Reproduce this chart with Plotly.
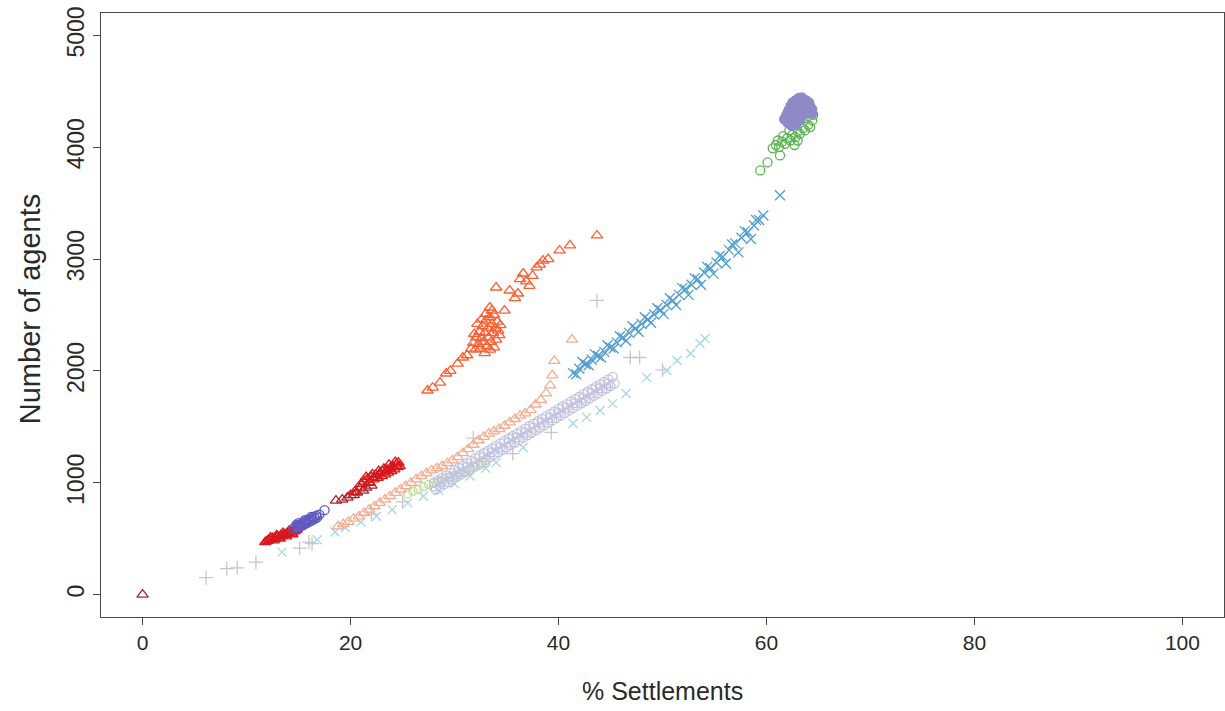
import plotly.graph_objects as go

# ---- data: (% settlements, number of agents) per run group ----
dkred_x = [0.0, 18.6, 19.2, 19.7, 20.3, 20.6, 21.2, 21.5, 22.0, 21.8]
dkred_y = [0, 840, 850, 868, 890, 912, 930, 957, 975, 1000]

red_x = [11.8, 12.0, 12.2, 12.4, 12.5, 12.7, 12.8, 13.0, 13.1, 13.3, 13.4, 13.6, 13.7, 13.9, 14.0,
         14.2, 14.3, 14.5, 14.6, 14.8, 12.3, 12.9, 13.5, 14.1, 14.7, 12.6, 13.2, 13.8, 14.4,
         20.0, 20.4, 20.9, 21.0, 21.3, 21.6, 21.8, 22.0, 22.2, 22.4, 22.6, 22.8, 23.0, 23.1, 23.3,
         23.5, 23.6, 23.8, 23.9, 24.1, 24.2, 24.4, 24.5, 24.6, 24.3, 23.7, 23.2, 22.7, 22.1, 21.5, 24.7]
red_y = [470, 480, 490, 495, 505, 500, 515, 520, 510, 530, 525, 540, 535, 550, 545,
         560, 555, 570, 565, 580, 510, 530, 550, 570, 590, 485, 500, 520, 540,
         890, 920, 950, 990, 1010, 1030, 1005, 1050, 1030, 1070, 1045, 1085, 1060, 1100, 1075,
         1115, 1090, 1130, 1105, 1145, 1120, 1165, 1140, 1180, 1185, 1160, 1125, 1105, 1075, 1050, 1150]

slate_x = [14.5, 14.7, 14.9, 15.0, 15.1, 15.2, 15.3, 15.4, 15.5, 15.6, 15.7, 15.8, 15.9, 16.0,
           16.1, 16.2, 16.3, 16.4, 16.5, 16.6, 16.7, 16.8, 17.0, 15.0, 15.6, 16.2, 14.8, 17.5]
slate_y = [590, 605, 615, 600, 625, 610, 635, 620, 645, 630, 655, 640, 665, 650,
           675, 660, 685, 670, 695, 680, 705, 690, 715, 640, 665, 695, 625, 755]

tomato_x = [27.4, 27.9, 28.6, 29.2, 29.6, 30.3, 30.8, 31.2, 33.4, 34.0, 34.8, 35.3, 36.1, 36.6,
            36.9, 37.2, 37.9, 38.5, 37.5, 36.3, 35.8, 40.1, 41.1, 43.7, 38.2, 39.0,
            31.6, 31.8, 32.0, 32.1, 32.3, 32.4, 32.5, 32.6, 32.7, 32.8, 32.9, 33.0, 33.1, 33.2,
            33.3, 33.4, 33.5, 33.6, 33.7, 33.8, 33.9, 34.0, 34.1, 34.2, 34.4, 32.2, 32.6, 33.0,
            33.4, 33.8, 34.3, 31.9, 32.9, 33.6]
tomato_y = [1825, 1850, 1896, 1977, 2000, 2066, 2120, 2140, 2567, 2746, 2540, 2719, 2692, 2871,
            2800, 2760, 2925, 2987, 2850, 2820, 2650, 3077, 3122, 3211, 2950, 3000,
            2200, 2250, 2190, 2300, 2240, 2350, 2200, 2290, 2400, 2260, 2340, 2450, 2220, 2380,
            2300, 2480, 2260, 2420, 2340, 2500, 2380, 2280, 2440, 2360, 2410, 2420, 2460, 2510,
            2190, 2210, 2320, 2330, 2160, 2540]

salmon_x = [18.8, 19.3, 19.8, 20.3, 20.8, 21.3, 21.8, 22.3, 22.8, 23.3, 23.8, 24.3, 24.8, 25.3,
            25.8, 26.3, 26.8, 27.3, 27.8, 28.3, 28.8, 29.3, 29.8, 30.3, 30.8, 31.3, 31.8, 32.3,
            32.8, 33.3, 33.8, 34.3, 34.8, 35.3, 35.8, 36.3, 36.8, 37.3, 37.8, 38.3, 38.8, 39.2,
            39.4, 39.6, 41.3]
salmon_y = [610, 630, 650, 680, 700, 730, 760, 790, 820, 850, 880, 910, 940, 970,
            1000, 1030, 1060, 1085, 1110, 1130, 1150, 1175, 1200, 1230, 1265, 1300, 1340, 1380,
            1410, 1440, 1460, 1480, 1510, 1540, 1570, 1600, 1620, 1650, 1700, 1740, 1800, 1870,
            1960, 2090, 2280]

ltgreen_x = [25.5, 26.0, 26.5, 27.0, 27.5, 28.0, 28.5, 29.0, 29.5, 30.0, 30.5, 31.0, 31.5, 32.0, 32.5, 33.0]
ltgreen_y = [900, 925, 940, 965, 985, 1000, 1010, 1030, 1045, 1065, 1085, 1100, 1120, 1140, 1160, 1180]

lav_x = [28.0, 28.4, 28.8, 29.2, 29.6, 30.0, 30.4, 30.8, 31.2, 31.6, 32.0, 32.4, 32.8, 33.2, 33.6,
         34.0, 34.4, 34.8, 35.2, 35.6, 36.0, 36.4, 36.8, 37.2, 37.6, 38.0, 38.4, 38.8, 39.2, 39.6,
         40.0, 40.4, 40.8, 41.2, 41.6, 42.0, 42.4, 42.8, 43.2, 43.6, 44.0, 44.4, 44.8, 45.2,
         28.2, 28.6, 29.0, 29.4, 29.8, 30.2, 30.6, 31.0, 31.4, 31.8, 32.2, 32.6, 33.0, 33.4, 33.8,
         34.2, 34.6, 35.0, 35.4, 35.8, 36.2, 36.6, 37.0, 37.4, 37.8, 38.2, 38.6, 39.0, 39.4, 39.8,
         40.2, 40.6, 41.0, 41.4, 41.8, 42.2, 42.6, 43.0, 43.4, 43.8, 44.2, 44.6, 45.0, 45.4,
         28.0, 28.8, 29.6, 30.4, 31.2, 32.0, 32.8, 33.6, 34.4, 35.2, 36.0, 36.8, 37.6, 38.4,
         39.2, 40.0, 40.8, 41.6, 42.4, 43.2, 44.0, 44.8]
lav_y = [1000, 1021, 1044, 1066, 1088, 1110, 1132, 1154, 1176, 1198, 1220, 1242, 1264, 1286, 1308,
         1330, 1352, 1374, 1396, 1418, 1440, 1462, 1484, 1506, 1528, 1550, 1572, 1594, 1616, 1638,
         1660, 1682, 1704, 1726, 1748, 1770, 1792, 1814, 1836, 1858, 1880, 1902, 1924, 1946,
         940, 963, 985, 1007, 1029, 1051, 1073, 1095, 1117, 1139, 1161, 1183, 1205, 1227, 1249,
         1271, 1293, 1315, 1337, 1359, 1381, 1403, 1425, 1447, 1469, 1491, 1513, 1535, 1557, 1579,
         1601, 1623, 1645, 1667, 1689, 1711, 1733, 1755, 1777, 1799, 1821, 1843, 1865, 1887,
         965, 1009, 1053, 1097, 1141, 1185, 1229, 1273, 1317, 1361, 1405, 1449, 1493, 1537,
         1581, 1625, 1669, 1713, 1757, 1801, 1845, 1889]

cyan_x = [13.4, 16.8, 18.5, 19.5, 21.0, 22.5, 24.0, 25.5, 27.0, 28.5, 30.0, 31.5, 33.0, 34.0,
          36.6, 41.4, 42.7, 44.0, 45.2, 46.5, 48.5, 50.4, 51.4, 52.7, 53.6, 54.1]
cyan_y = [380, 490, 560, 600, 650, 700, 760, 820, 880, 930, 990, 1060, 1130, 1180,
          1315, 1530, 1585, 1646, 1708, 1798, 1940, 2004, 2093, 2156, 2245, 2290]

gray_x = [6.1, 8.1, 9.1, 10.9, 15.1, 16.3, 16.0, 43.7, 31.8, 35.6, 39.3, 46.9, 47.8, 50.0, 22.0, 25.0]
gray_y = [152, 232, 240, 290, 415, 456, 470, 2630, 1400, 1261, 1450, 2120, 2120, 2010, 720, 830]

steel_x = [41.4, 42.0, 42.6, 43.2, 43.8, 44.4, 45.0, 45.6, 46.2, 46.8, 47.4, 48.0, 48.6, 49.2,
           49.8, 50.4, 51.0, 51.6, 52.2, 52.8, 53.4, 54.0, 54.6, 55.2, 55.8, 56.4, 57.0, 57.6,
           58.2, 58.8, 59.3, 59.7, 61.3,
           42.3, 43.5, 44.7, 45.9, 47.1, 48.3, 49.5, 50.7, 51.9, 53.1, 54.3, 55.5, 56.7, 57.9, 59.0,
           41.7, 42.9, 44.1, 45.3, 46.5, 47.7, 48.9, 50.1, 51.3, 52.5, 53.7, 54.9, 56.1, 57.3, 58.5]
steel_y = [1980, 2020, 2060, 2100, 2135, 2170, 2210, 2255, 2300, 2340, 2380, 2420, 2460, 2505,
           2545, 2590, 2630, 2680, 2730, 2770, 2820, 2880, 2920, 2970, 3020, 3080, 3140, 3190,
           3240, 3300, 3350, 3390, 3570,
           2080, 2150, 2230, 2310, 2400, 2480, 2560, 2650, 2740, 2830, 2930, 3030, 3130, 3250, 3350,
           1970, 2050, 2120, 2200, 2270, 2350, 2430, 2510, 2590, 2680, 2770, 2870, 2960, 3060, 3180]

green_x = [59.4, 60.1, 61.3, 60.6, 60.9, 61.2, 61.5, 61.8, 62.0, 62.3, 62.5, 62.8, 63.0, 63.2,
           63.5, 63.7, 64.0, 64.2, 64.4, 64.5, 64.3, 62.2, 61.6, 63.0, 63.8, 64.1, 62.7, 61.1]
green_y = [3793, 3864, 3927, 3990, 4020, 4000, 4050, 4030, 4080, 4060, 4110, 4090, 4140, 4120,
           4170, 4150, 4200, 4180, 4240, 4290, 4320, 4150, 4100, 4060, 4260, 4350, 4020, 4060]

purple_x = [61.7, 61.9, 62.1, 62.3, 62.5, 62.8, 63.1, 63.4, 62.0, 62.3, 62.6, 62.9, 63.2, 63.5,
            63.8, 64.1, 62.4, 62.7, 63.0, 63.3, 63.6, 63.9, 64.2, 64.4, 62.9, 63.2, 63.5, 63.8,
            64.1, 64.4, 62.2, 62.7, 63.3, 63.9]
purple_y = [4250, 4290, 4330, 4370, 4400, 4420, 4440, 4445, 4220, 4260, 4300, 4340, 4380, 4410,
            4420, 4400, 4190, 4230, 4270, 4310, 4350, 4370, 4370, 4340, 4200, 4240, 4280, 4310,
            4320, 4300, 4310, 4350, 4400, 4400]

x_ticks = [0, 20, 40, 60, 80, 100]
y_ticks = [0, 1000, 2000, 3000, 4000, 5000]

# (x, y, symbol, colour, size) for each group, drawn in this order
groups = [
    (gray_x, gray_y, "cross-thin-open", "#C6C6C6", 10),
    (cyan_x, cyan_y, "x-thin-open", "#A6D6E6", 9),
    (ltgreen_x, ltgreen_y, "circle-open", "#B8DE92", 8),
    (lav_x, lav_y, "circle-open", "#C2C2E0", 9),
    (salmon_x, salmon_y, "triangle-up-open", "#F5AD92", 10),
    (steel_x, steel_y, "x-thin-open", "#509ED0", 10),
    (tomato_x, tomato_y, "triangle-up-open", "#FC5E30", 10),
    (dkred_x, dkred_y, "triangle-up-open", "#A5262E", 10),
    (red_x, red_y, "triangle-up-open", "#D7191C", 10),
    (slate_x, slate_y, "circle-open", "#6159C2", 9),
    (green_x, green_y, "circle-open", "#5DB452", 9),
    (purple_x, purple_y, "circle", "#8E8AC8", 9),
]

fig = go.Figure()
for gx, gy, sym, col, sz in groups:
    fig.add_trace(go.Scatter(
        x=gx, y=gy, mode="markers",
        marker=dict(symbol=sym, size=sz, color=col, line=dict(color=col, width=1.3)),
        showlegend=False, hoverinfo="skip",
    ))

sans = "Liberation Sans, Arial, Helvetica, sans-serif"
axis_common = dict(
    showgrid=False, zeroline=False,
    showline=True, mirror=True, linecolor="#4a4a4a", linewidth=1,
    ticks="outside", ticklen=7, tickcolor="#4a4a4a", tickwidth=1,
)
fig.update_xaxes(range=[-4, 104], tickvals=x_ticks, ticktext=[str(v) for v in x_ticks],
                 tickfont=dict(family=sans, size=21, color="#2a2a2a"), **axis_common)
fig.update_yaxes(range=[-200, 5200], tickvals=y_ticks, ticktext=[str(v) for v in y_ticks],
                 tickangle=-90,
                 tickfont=dict(family=sans, size=23, color="#2a2a2a"), **axis_common)

fig.add_annotation(text="% Settlements", xref="paper", yref="paper", x=0.5, y=-0.122,
                   xanchor="center", yanchor="middle", showarrow=False,
                   font=dict(family=sans, size=25, color="#2a2a2a"))
fig.add_annotation(text="Number of agents", xref="paper", yref="paper", x=-0.063, y=0.51,
                   xanchor="center", yanchor="middle", showarrow=False, textangle=-90,
                   font=dict(family=sans, size=29, color="#2a2a2a"))

fig.update_layout(
    width=1225, height=711,
    margin=dict(l=101, r=1, t=13, b=94),
    paper_bgcolor="white", plot_bgcolor="white",
)
fig.write_html("out.html")
